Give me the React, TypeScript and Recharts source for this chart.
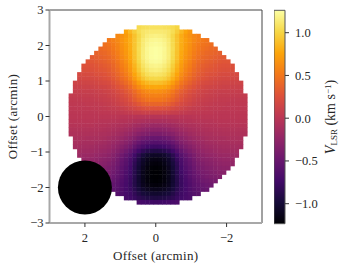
import {
  ScatterChart,
  Scatter,
  XAxis,
  YAxis,
  ReferenceDot,
  ReferenceLine,
  ReferenceArea,
  Label,
} from "recharts";

const FONT = "'Liberation Serif', serif";
const TEXT = "#262626";

const offsetTicks = [-3, -2, -1, 0, 1, 2, 3];
const xOffsetTicks = [-2, 0, 2];
const colorbarTicks = [-1, -0.5, 0, 0.5, 1];
const colorMin = -1.234;
const colorMax = 1.262;

// map pixel spacing and centre, arcmin
const pixelStep = 0.12;
const mapCentreX = -0.06;
const mapCentreY = 0.05;
const beam = { x: 2, y: -2 };

const inferno = [
  "#000004", "#160b39", "#420a68", "#6a176e", "#932667", "#bc3754",
  "#dd513a", "#f37819", "#fca50a", "#f6d746", "#fcffa4",
];

// velocity, km/s x 100, top row first, left to right
const velocityRows: number[][] = [
  [104,106,107,108,108,108,107,106,104,100],
  [76,86,96,105,110,112,113,113,113,112,110,105,96,86,76,68],
  [60,65,71,80,91,102,110,115,117,118,117,115,110,102,91,80,71,65,60,56],
  [52,56,60,67,73,81,92,103,113,118,121,122,121,118,113,103,92,81,73,67,60,56,52,49],
  [47,49,53,58,65,72,80,92,104,114,120,123,124,123,120,114,104,92,80,72,65,58,53,49,47,45],
  [42,44,47,51,57,64,71,80,92,105,115,122,125,126,125,122,115,105,92,80,71,64,57,51,47,44,42,41],
  [38,40,41,44,49,54,62,69,78,91,104,115,121,125,126,125,121,115,104,91,78,69,62,54,49,44,41,40,38,36],
  [33,35,37,39,41,46,52,60,67,77,90,103,115,121,125,126,125,121,115,103,90,77,67,60,52,46,41,39,37,35,33,32],
  [29,30,32,34,36,39,43,49,57,64,74,88,101,112,119,123,124,123,119,112,101,88,74,64,57,49,43,39,36,34,32,30,29,29],
  [26,26,27,29,31,33,35,40,46,54,61,71,84,97,109,115,119,120,119,115,109,97,84,71,61,54,46,40,35,33,31,29,27,26,26,25],
  [24,24,25,27,29,30,33,38,43,51,58,68,81,94,105,111,115,116,115,111,105,94,81,68,58,51,43,38,33,30,29,27,25,24,24,23],
  [20,21,21,22,24,25,27,30,34,40,47,54,63,76,88,99,106,109,110,109,106,99,88,76,63,54,47,40,34,30,27,25,24,22,21,21,20,20],
  [17,18,18,19,20,22,24,26,31,36,43,49,58,70,82,92,98,101,102,101,98,92,82,70,58,49,43,36,31,26,24,22,20,19,18,18,17,17],
  [14,14,15,15,16,17,19,20,22,26,31,37,43,50,61,72,81,86,89,90,89,86,81,72,61,50,43,37,31,26,22,20,19,17,16,15,15,14,14,14],
  [11,11,12,12,13,14,15,16,18,22,26,31,36,43,53,62,70,75,77,78,77,75,70,62,53,43,36,31,26,22,18,16,15,14,13,12,12,11,11,11],
  [8,8,9,9,9,10,11,13,14,17,21,25,30,35,43,51,58,62,64,65,64,62,58,51,43,35,30,25,21,17,14,13,11,10,9,9,9,8,8,8],
  [6,6,6,7,7,7,8,9,10,12,14,17,21,25,30,38,45,51,54,56,57,56,54,51,45,38,30,25,21,17,14,12,10,9,8,7,7,7,6,6,6,6],
  [4,4,4,5,5,5,6,7,8,9,11,14,18,21,26,33,39,44,48,50,50,50,48,44,39,33,26,21,18,14,11,9,8,7,6,5,5,5,4,4,4,4],
  [3,3,3,3,4,4,4,5,6,7,9,11,14,17,20,25,30,35,37,39,39,39,37,35,30,25,20,17,14,11,9,7,6,5,4,4,4,3,3,3,3,3],
  [2,2,2,2,2,3,3,3,4,5,6,7,9,11,14,17,20,23,25,26,26,26,25,23,20,17,14,11,9,7,6,5,4,3,3,3,2,2,2,2,2,2],
  [1,1,1,1,1,1,1,2,2,2,3,3,4,5,6,8,9,11,11,12,12,12,11,11,9,8,6,5,4,3,3,2,2,2,1,1,1,1,1,1,1,1],
  [0,0,0,0,0,0,0,0,0,0,0,0,-1,-1,-1,-1,-2,-2,-2,-2,-2,-2,-2,-2,-2,-1,-1,-1,-1,0,0,0,0,0,0,0,0,0,0,0,0,0],
  [-1,-1,-1,-1,-1,-1,-1,-2,-2,-2,-2,-3,-4,-4,-5,-7,-8,-9,-10,-10,-10,-10,-10,-9,-8,-7,-5,-4,-4,-3,-2,-2,-2,-2,-1,-1,-1,-1,-1,-1,-1,-1],
  [-3,-3,-3,-3,-3,-3,-4,-4,-4,-5,-6,-7,-8,-9,-11,-13,-15,-17,-18,-19,-19,-19,-18,-17,-15,-13,-11,-9,-8,-7,-6,-5,-4,-4,-4,-3,-3,-3,-3,-3,-3,-3],
  [-5,-5,-5,-5,-5,-6,-6,-6,-7,-8,-9,-10,-12,-14,-16,-19,-22,-25,-27,-28,-28,-28,-27,-25,-22,-19,-16,-14,-12,-10,-9,-8,-7,-6,-6,-6,-5,-5,-5,-5,-5,-5],
  [-7,-7,-7,-7,-7,-8,-8,-9,-9,-10,-12,-14,-16,-19,-22,-26,-31,-34,-36,-38,-38,-38,-36,-34,-31,-26,-22,-19,-16,-14,-12,-10,-9,-9,-8,-8,-7,-7,-7,-7,-7,-7],
  [-9,-9,-9,-10,-10,-11,-11,-12,-14,-16,-18,-21,-25,-29,-34,-40,-45,-48,-50,-50,-50,-48,-45,-40,-34,-29,-25,-21,-18,-16,-14,-12,-11,-11,-10,-10,-9,-9,-9,-9],
  [-11,-11,-12,-12,-12,-13,-14,-15,-17,-19,-22,-26,-30,-35,-43,-50,-56,-59,-61,-62,-61,-59,-56,-50,-43,-35,-30,-26,-22,-19,-17,-15,-14,-13,-12,-12,-12,-11,-11,-11],
  [-13,-13,-14,-14,-15,-16,-17,-18,-20,-23,-27,-32,-37,-43,-52,-61,-68,-73,-75,-76,-75,-73,-68,-61,-52,-43,-37,-32,-27,-23,-20,-18,-17,-16,-15,-14,-14,-13,-13,-13],
  [-15,-16,-16,-17,-18,-20,-21,-23,-27,-32,-38,-44,-52,-63,-74,-83,-88,-91,-92,-91,-88,-83,-74,-63,-52,-44,-38,-32,-27,-23,-21,-20,-18,-17,-16,-16,-15,-15],
  [-18,-19,-19,-20,-22,-23,-25,-28,-32,-38,-45,-52,-61,-74,-86,-97,-104,-107,-108,-107,-104,-97,-86,-74,-61,-52,-45,-38,-32,-28,-25,-23,-22,-20,-19,-19,-18,-18],
  [-22,-22,-23,-25,-27,-29,-31,-36,-42,-50,-57,-67,-80,-93,-105,-111,-115,-116,-115,-111,-105,-93,-80,-67,-57,-50,-42,-36,-31,-29,-27,-25,-23,-22,-22,-21],
  [-25,-25,-26,-28,-30,-32,-35,-39,-45,-53,-60,-70,-84,-97,-108,-115,-119,-120,-119,-115,-108,-97,-84,-70,-60,-53,-45,-39,-35,-32,-30,-28,-26,-25,-25,-24],
  [-28,-29,-31,-33,-35,-38,-42,-48,-56,-63,-73,-87,-100,-111,-118,-122,-123,-122,-118,-111,-100,-87,-73,-63,-56,-48,-42,-38,-35,-33,-31,-29,-28,-28],
  [-32,-34,-36,-38,-40,-45,-51,-58,-66,-75,-88,-101,-113,-119,-123,-124,-123,-119,-113,-101,-88,-75,-66,-58,-51,-45,-40,-38,-36,-34,-32,-31],
  [-37,-38,-40,-43,-48,-53,-60,-68,-77,-89,-102,-113,-119,-123,-124,-123,-119,-113,-102,-89,-77,-68,-60,-53,-48,-43,-40,-38,-37,-35],
  [-42,-44,-46,-51,-56,-63,-70,-78,-90,-102,-113,-119,-122,-123,-122,-119,-113,-102,-90,-78,-70,-63,-56,-51,-46,-44,-42,-40],
  [-47,-50,-54,-58,-65,-71,-79,-90,-101,-111,-116,-119,-120,-119,-116,-111,-101,-90,-79,-71,-65,-58,-54,-50,-47,-46],
  [-52,-56,-60,-65,-71,-78,-87,-97,-105,-110,-112,-113,-112,-110,-105,-97,-87,-78,-71,-65,-60,-56,-52,-50],
  [-62,-66,-71,-76,-83,-91,-98,-101,-103,-104,-103,-101,-98,-91,-83,-76,-71,-66,-62,-59],
  [-70,-74,-79,-85,-89,-92,-93,-94,-93,-92,-89,-85,-79,-74,-70,-67],
  [-70,-72,-74,-75,-76,-75,-74,-72,-70,-67],
];

function hexToRgb(hex: string) {
  return [1, 3, 5].map((i) => parseInt(hex.slice(i, i + 2), 16));
}

function colorFor(v: number) {
  const t = Math.min(1, Math.max(0, (v - colorMin) / (colorMax - colorMin)));
  const pos = t * (inferno.length - 1);
  const i = Math.min(inferno.length - 2, Math.floor(pos));
  const a = hexToRgb(inferno[i]);
  const b = hexToRgb(inferno[i + 1]);
  const c = a.map((n, k) => Math.round(n + (b[k] - n) * (pos - i)));
  return `rgb(${c[0]},${c[1]},${c[2]})`;
}

// one map pixel per value, rows are centred on the disc
const cells = velocityRows.flatMap((row, r) =>
  row.map((val, i) => ({
    x: mapCentreX - (i - (row.length - 1) / 2) * pixelStep,
    y: mapCentreY + (20.5 - r) * pixelStep,
    v: val / 100,
  }))
);

const cbarPoints = colorbarTicks.map((t) => ({ x: 0.5, y: t }));

function MapPixel(props: any) {
  const { cx, cy, payload } = props;
  return (
    <rect
      x={cx - 2.13}
      y={cy - 2.13}
      width={4.7}
      height={4.7}
      fill={colorFor(payload.v)}
    />
  );
}

function fmtInt(v: number) {
  return String(v).replace("-", "\u2212");
}

function fmtCbar(v: number) {
  return v.toFixed(1).replace("-", "\u2212");
}

function VelocityLabel() {
  return (
    <text
      transform="translate(61,117) rotate(-90)"
      textAnchor="middle"
      fontFamily={FONT}
      fontSize={14}
      fill={TEXT}
    >
      <tspan fontStyle="italic">V</tspan>
      <tspan fontSize={9} dy={2}>LSR</tspan>
      <tspan dy={-2}> (km s</tspan>
      <tspan fontSize={9} dy={-4}>{"\u22121"}</tspan>
      <tspan dy={4}>)</tspan>
    </text>
  );
}

export default function App() {
  const tick = { fontFamily: FONT, fontSize: 12.5, fill: TEXT };
  return (
    <div style={{ position: "absolute", left: 0, top: 0, width: 345, height: 268, opacity: 0.999 }}>
      <ScatterChart
        width={345}
        height={268}
        margin={{ top: 10, right: 83, bottom: 0, left: 0 }}
      >
        <XAxis
          type="number"
          dataKey="x"
          reversed
          domain={[-3, 3]}
          ticks={xOffsetTicks}
          tickFormatter={fmtInt}
          height={45}
          tick={tick}
          tickSize={4}
          tickMargin={6}
          tickLine={{ stroke: "#333" }}
          axisLine={{ stroke: "#a8a8a8", strokeWidth: 2 }}
        >
          <Label
            value="Offset (arcmin)"
            position="insideBottom"
            offset={8}
            style={{ fontFamily: FONT, fontSize: 13, fill: TEXT, letterSpacing: 0.35 }}
          />
        </XAxis>
        <YAxis
          type="number"
          dataKey="y"
          domain={[-3, 3]}
          ticks={offsetTicks}
          tickFormatter={fmtInt}
          width={49.5}
          tick={tick}
          tickSize={4}
          tickMargin={2}
          tickLine={{ stroke: "#333" }}
          axisLine={{ stroke: "#a8a8a8", strokeWidth: 2 }}
        >
          <Label
            value="Offset (arcmin)"
            angle={-90}
            position="insideLeft"
            offset={12}
            style={{ textAnchor: "middle", fontFamily: FONT, fontSize: 13, fill: TEXT, letterSpacing: 0.35 }}
          />
        </YAxis>
        <Scatter data={cells} shape={MapPixel} isAnimationActive={false} />
        <ReferenceDot x={beam.x} y={beam.y} r={27} fill="#000" stroke="none" />
        <ReferenceLine y={3} stroke="#444" strokeWidth={1} />
        <ReferenceLine x={-3} stroke="#444" strokeWidth={1} />
      </ScatterChart>

      <div style={{ position: "absolute", left: 274, top: 0 }}>
        <ScatterChart
          width={71}
          height={268}
          margin={{ top: 10.3, right: 0, bottom: 0, left: 0 }}
        >
          <defs>
            <linearGradient id="infernoBar" x1="0" y1="1" x2="0" y2="0">
              {inferno.map((c, i) => (
                <stop key={c} offset={i / (inferno.length - 1)} stopColor={c} />
              ))}
            </linearGradient>
          </defs>
          <XAxis type="number" dataKey="x" domain={[0, 1]} height={44.3} tick={false} tickLine={false} axisLine={false} />
          <YAxis
            type="number"
            dataKey="y"
            orientation="right"
            domain={[colorMin, colorMax]}
            ticks={colorbarTicks}
            tickFormatter={fmtCbar}
            interval={0}
            width={60}
            tick={tick}
            tickSize={4}
            tickMargin={6}
            tickLine={{ stroke: "#333" }}
            axisLine={false}
          />
          <Scatter data={cbarPoints} shape={() => <g />} isAnimationActive={false} />
          <ReferenceArea
            x1={0}
            x2={1}
            y1={colorMin}
            y2={colorMax}
            fill="url(#infernoBar)"
            fillOpacity={1}
            stroke="#555"
            strokeWidth={1}
          />
          <VelocityLabel />
        </ScatterChart>
      </div>
    </div>
  );
}
